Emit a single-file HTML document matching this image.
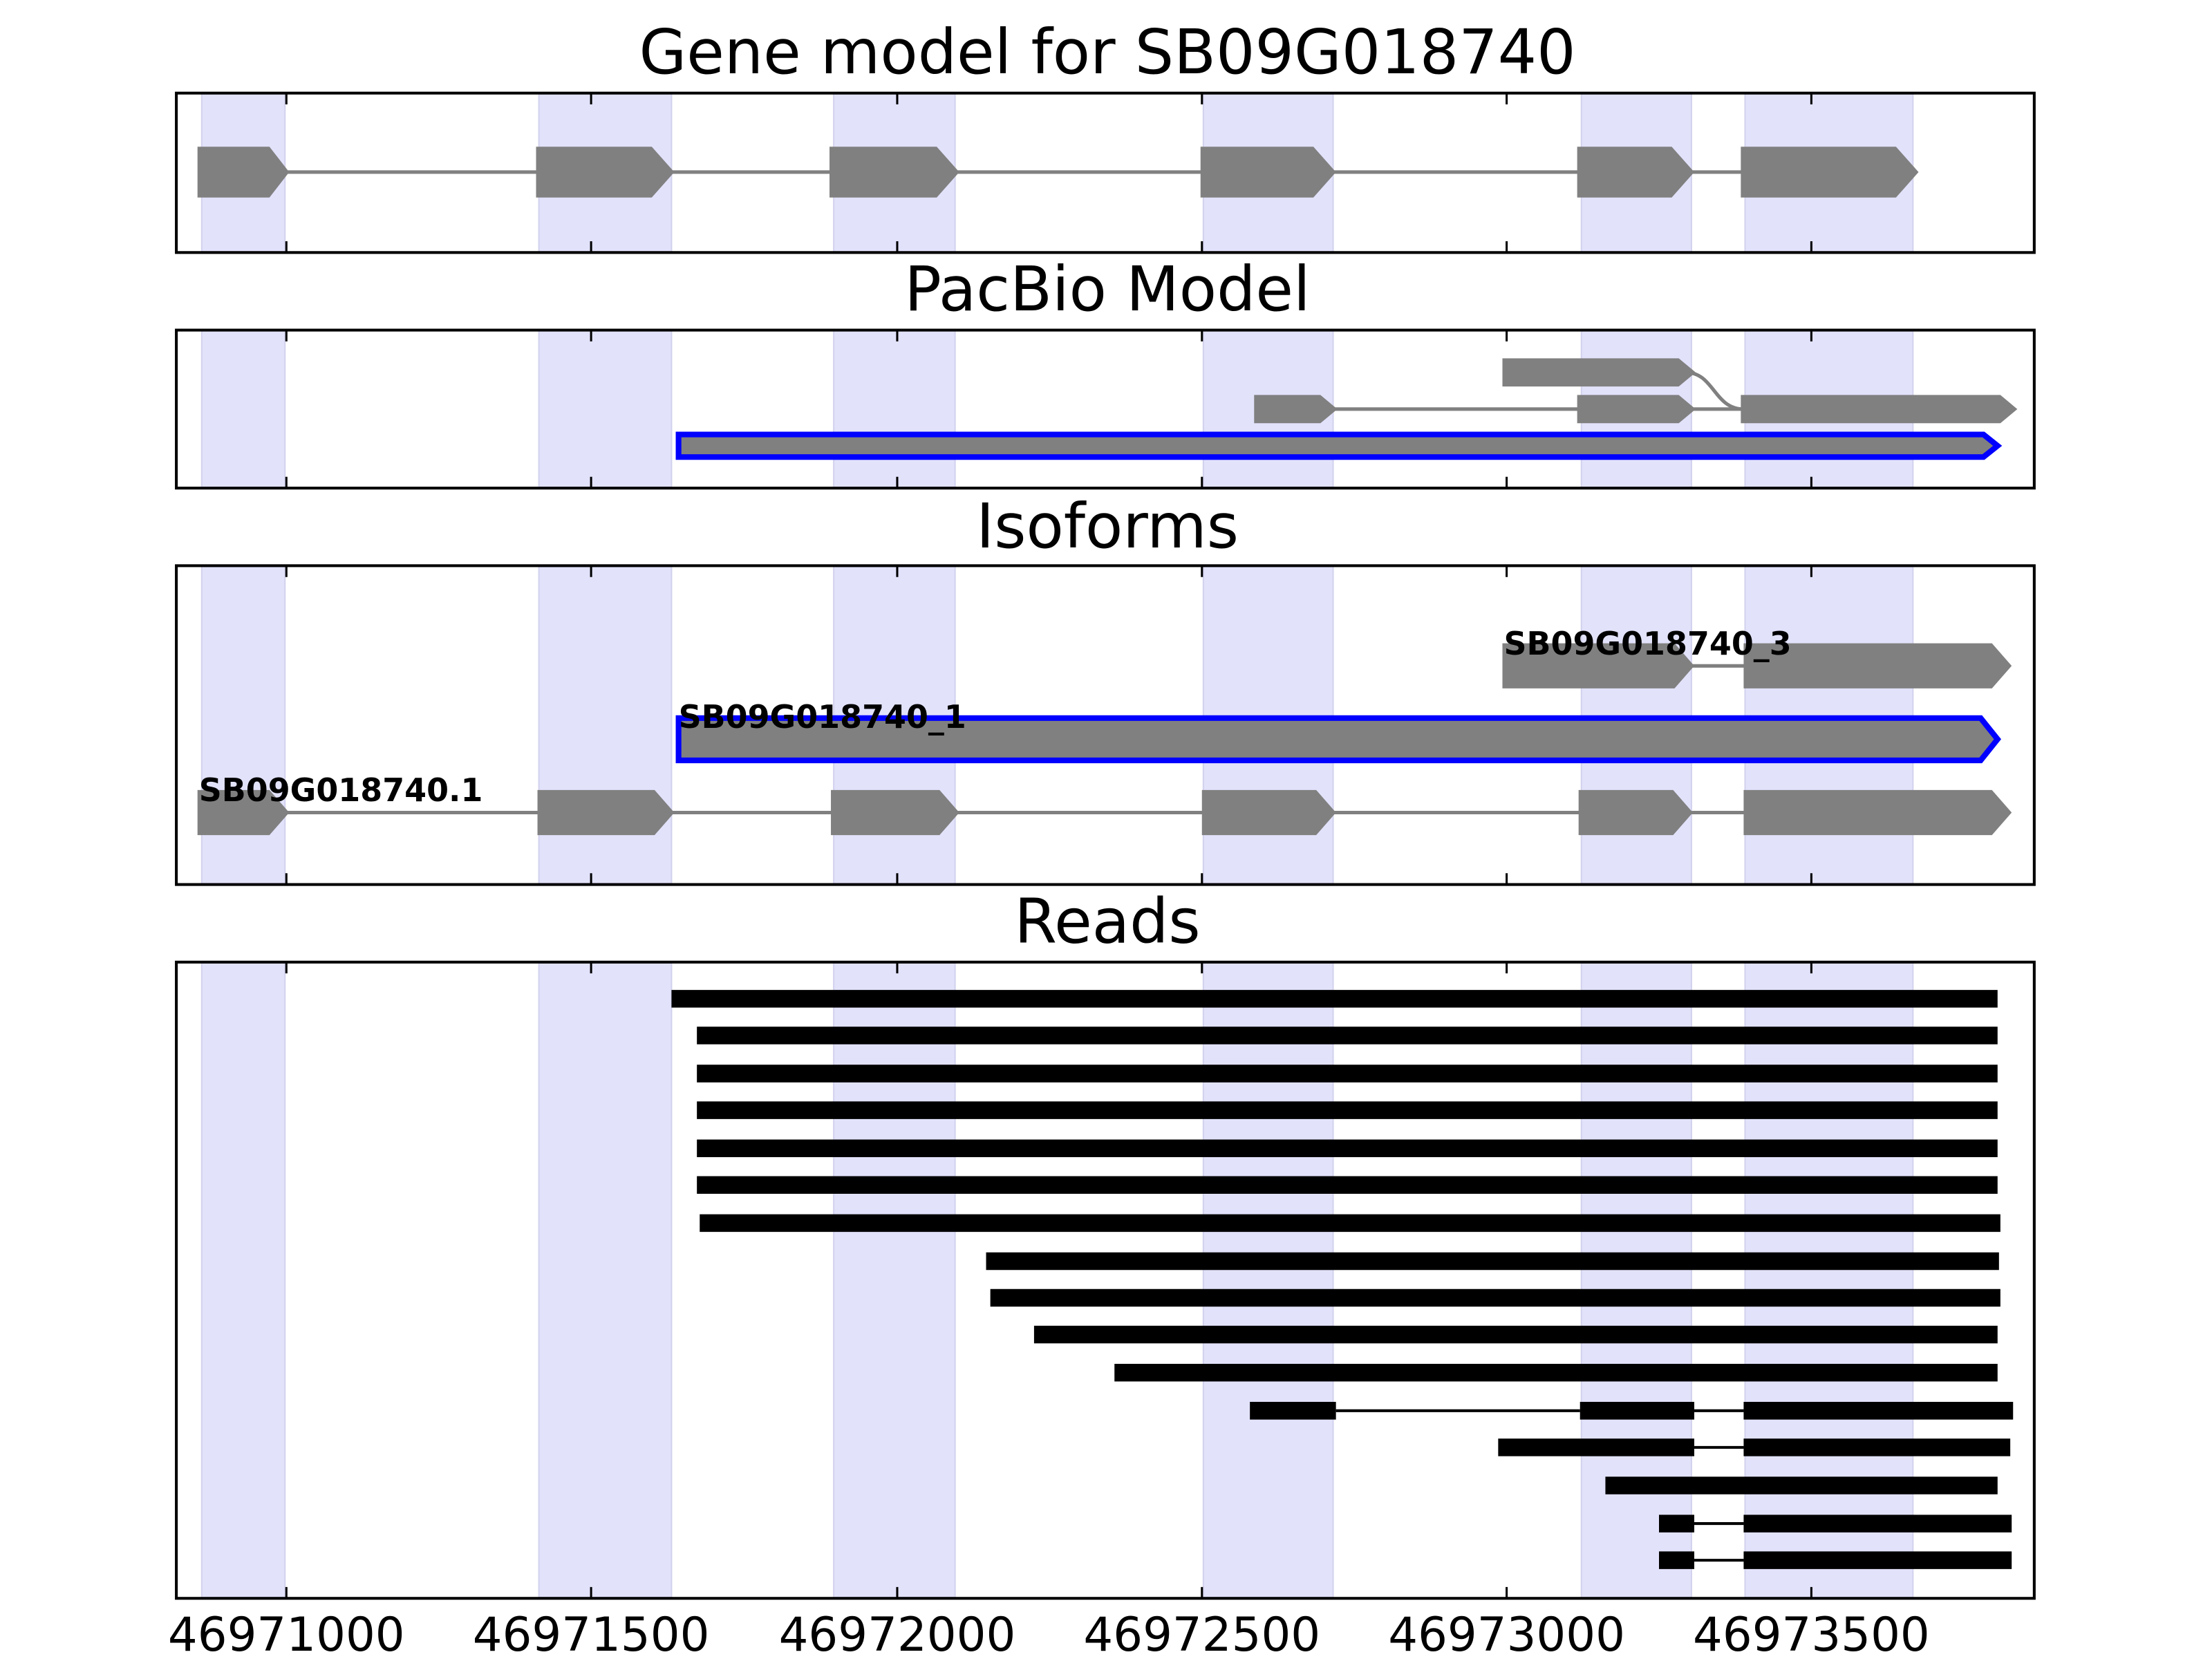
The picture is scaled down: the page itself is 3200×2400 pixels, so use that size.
<!DOCTYPE html>
<html><head><meta charset="utf-8"><style>html,body{margin:0;padding:0;background:#fff}svg{display:block}</style></head>
<body>
<svg width="3200" height="2400" viewBox="0 0 1568 1176" xmlns="http://www.w3.org/2000/svg" font-family="'DejaVu Sans','Liberation Sans',sans-serif">
<!-- bands -->
<g fill="#e2e2fb" stroke="#d2d2ee" stroke-width="1">
<rect x="143" y="66" width="59" height="113"/><rect x="382" y="66" width="94" height="113"/><rect x="591" y="66" width="86" height="113"/><rect x="853" y="66" width="92" height="113"/><rect x="1121" y="66" width="78" height="113"/><rect x="1237" y="66" width="119" height="113"/>
<rect x="143" y="234" width="59" height="112"/><rect x="382" y="234" width="94" height="112"/><rect x="591" y="234" width="86" height="112"/><rect x="853" y="234" width="92" height="112"/><rect x="1121" y="234" width="78" height="112"/><rect x="1237" y="234" width="119" height="112"/>
<rect x="143" y="401" width="59" height="226"/><rect x="382" y="401" width="94" height="226"/><rect x="591" y="401" width="86" height="226"/><rect x="853" y="401" width="92" height="226"/><rect x="1121" y="401" width="78" height="226"/><rect x="1237" y="401" width="119" height="226"/>
<rect x="143" y="682" width="59" height="451"/><rect x="382" y="682" width="94" height="451"/><rect x="591" y="682" width="86" height="451"/><rect x="853" y="682" width="92" height="451"/><rect x="1121" y="682" width="78" height="451"/><rect x="1237" y="682" width="119" height="451"/>
</g>
<!-- titles -->
<g font-size="43.5" text-anchor="middle" fill="#000">
<text x="785" y="52">Gene model for SB09G018740</text>
<text x="785" y="220">PacBio Model</text>
<text x="785" y="388">Isoforms</text>
<text x="785" y="668">Reads</text>
</g>
<!-- panel 1 -->
<g stroke="#808080" stroke-width="2.5"><line x1="200" y1="122" x2="1240" y2="122"/></g>
<g fill="#808080">
<polygon points="140,104 191,104 205,122 191,140 140,140"/>
<polygon points="380,104 462,104 478,122 462,140 380,140"/>
<polygon points="588,104 664,104 680,122 664,140 588,140"/>
<polygon points="851,104 931,104 947,122 931,140 851,140"/>
<polygon points="1118,104 1185,104 1201,122 1185,140 1118,140"/>
<polygon points="1234,104 1344,104 1360,122 1344,140 1234,140"/>
</g>
<!-- panel 2 -->
<g stroke="#808080" stroke-width="2.5" fill="none">
<line x1="940" y1="290" x2="1240" y2="290"/>
<path d="M1195,264 C1215,264 1215,290 1236,290"/>
</g>
<g fill="#808080">
<polygon points="1065,254 1190,254 1202,264 1190,274 1065,274"/>
<polygon points="889,280 936,280 948,290 936,300 889,300"/>
<polygon points="1118,280 1190,280 1202,290 1190,300 1118,300"/>
<polygon points="1234,280 1418,280 1430,290 1418,300 1234,300"/>
<polygon points="481,308 1406,308 1416,316 1406,324 481,324" stroke="#0000ff" stroke-width="4"/>
</g>
<!-- panel 3 -->
<g stroke="#808080" stroke-width="2.5">
<line x1="1195" y1="472" x2="1240" y2="472"/>
<line x1="200" y1="576" x2="1240" y2="576"/>
</g>
<g fill="#808080">
<polygon points="1065,456 1187,456 1201,472 1187,488 1065,488"/>
<polygon points="1236,456 1412,456 1426,472 1412,488 1236,488"/>
<polygon points="481,509 1404,509 1416,524 1404,539 481,539" stroke="#0000ff" stroke-width="4"/>
<polygon points="140,560 191,560 205,576 191,592 140,592"/>
<polygon points="381,560 464,560 478,576 464,592 381,592"/>
<polygon points="589,560 666,560 680,576 666,592 589,592"/>
<polygon points="852,560 933,560 947,576 933,592 852,592"/>
<polygon points="1119,560 1186,560 1200,576 1186,592 1119,592"/>
<polygon points="1236,560 1412,560 1426,576 1412,592 1236,592"/>
</g>
<g font-size="22.5" font-weight="bold" fill="#000">
<text x="1066" y="464">SB09G018740_3</text>
<text x="481" y="516">SB09G018740_1</text>
<text x="141" y="568">SB09G018740.1</text>
</g>
<!-- reads -->
<g stroke="#000" stroke-width="12.5">
<line x1="476" y1="708" x2="1416" y2="708"/>
<line x1="494" y1="734" x2="1416" y2="734"/>
<line x1="494" y1="761" x2="1416" y2="761"/>
<line x1="494" y1="787" x2="1416" y2="787"/>
<line x1="494" y1="814" x2="1416" y2="814"/>
<line x1="494" y1="840" x2="1416" y2="840"/>
<line x1="496" y1="867" x2="1418" y2="867"/>
<line x1="699" y1="894" x2="1417" y2="894"/>
<line x1="702" y1="920" x2="1418" y2="920"/>
<line x1="733" y1="946" x2="1416" y2="946"/>
<line x1="790" y1="973" x2="1416" y2="973"/>
<line x1="886" y1="1000" x2="947" y2="1000"/><line x1="1120" y1="1000" x2="1201" y2="1000"/><line x1="1236" y1="1000" x2="1427" y2="1000"/>
<line x1="1062" y1="1026" x2="1201" y2="1026"/><line x1="1236" y1="1026" x2="1425" y2="1026"/>
<line x1="1138" y1="1053" x2="1416" y2="1053"/>
<line x1="1176" y1="1080" x2="1201" y2="1080"/><line x1="1236" y1="1080" x2="1426" y2="1080"/>
<line x1="1176" y1="1106" x2="1201" y2="1106"/><line x1="1236" y1="1106" x2="1426" y2="1106"/>
</g>
<g stroke="#000" stroke-width="2">
<line x1="947" y1="1000" x2="1120" y2="1000"/><line x1="1201" y1="1000" x2="1236" y2="1000"/>
<line x1="1201" y1="1026" x2="1236" y2="1026"/>
<line x1="1201" y1="1080" x2="1236" y2="1080"/>
<line x1="1201" y1="1106" x2="1236" y2="1106"/>
</g>
<!-- axes frames -->
<g fill="none" stroke="#000" stroke-width="2">
<rect x="125" y="66" width="1317" height="113"/>
<rect x="125" y="234" width="1317" height="112"/>
<rect x="125" y="401" width="1317" height="226"/>
<rect x="125" y="682" width="1317" height="451"/>
</g>
<!-- ticks -->
<g stroke="#000" stroke-width="1.5">
<path d="M203,66v8M419,66v8M636,66v8M852,66v8M1068,66v8M1284,66v8M203,179v-8M419,179v-8M636,179v-8M852,179v-8M1068,179v-8M1284,179v-8"/>
<path d="M203,234v8M419,234v8M636,234v8M852,234v8M1068,234v8M1284,234v8M203,346v-8M419,346v-8M636,346v-8M852,346v-8M1068,346v-8M1284,346v-8"/>
<path d="M203,401v8M419,401v8M636,401v8M852,401v8M1068,401v8M1284,401v8M203,627v-8M419,627v-8M636,627v-8M852,627v-8M1068,627v-8M1284,627v-8"/>
<path d="M203,682v8M419,682v8M636,682v8M852,682v8M1068,682v8M1284,682v8M203,1133v-8M419,1133v-8M636,1133v-8M852,1133v-8M1068,1133v-8M1284,1133v-8"/>
</g>
<g font-size="33" text-anchor="middle" fill="#000">
<text x="203" y="1170">46971000</text>
<text x="419" y="1170">46971500</text>
<text x="636" y="1170">46972000</text>
<text x="852" y="1170">46972500</text>
<text x="1068" y="1170">46973000</text>
<text x="1284" y="1170">46973500</text>
</g>
</svg>
</body></html>
